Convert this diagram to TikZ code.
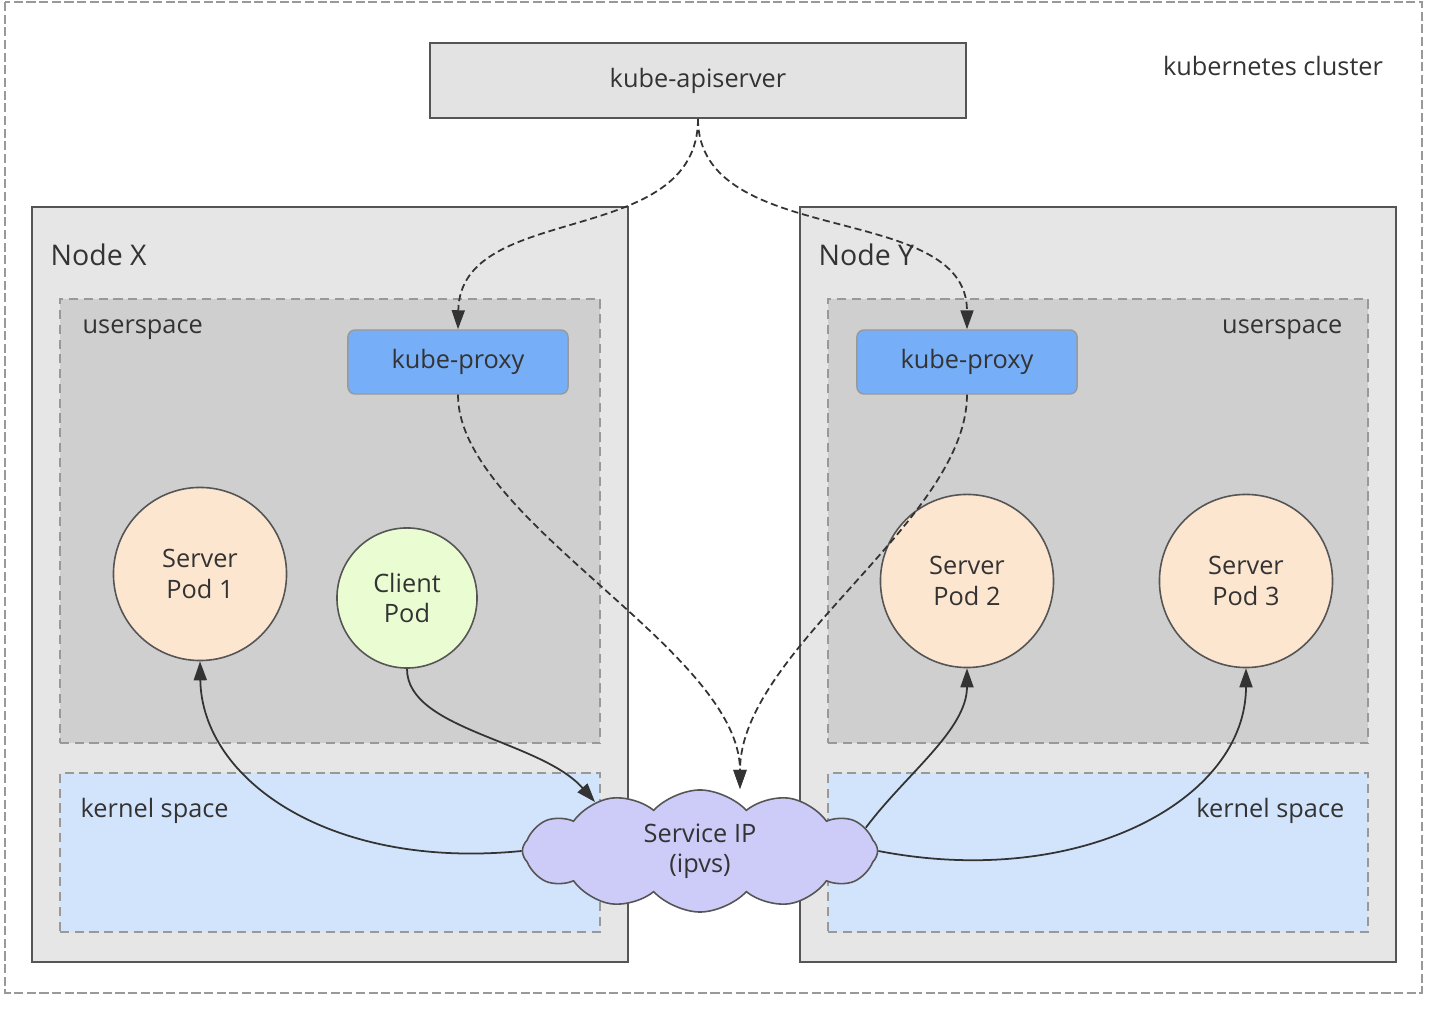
\documentclass[tikz,border=0pt]{standalone}
\usepackage{fontspec}
\setmainfont{Open Sans}
\usetikzlibrary{positioning,shapes.symbols,arrows.meta}

\definecolor{txtgray}{HTML}{333333}
\definecolor{linegray}{HTML}{555555}
\definecolor{dashgray}{HTML}{999999}
\definecolor{apifill}{HTML}{E3E3E3}
\definecolor{hostfill}{HTML}{E6E6E6}
\definecolor{userfill}{HTML}{CFCFCF}
\definecolor{kernelfill}{HTML}{D2E4FB}
\definecolor{proxyfill}{HTML}{76AEF8}
\definecolor{serverfill}{HTML}{FCE6D0}
\definecolor{clientfill}{HTML}{E9FCD2}
\definecolor{cloudfill}{HTML}{CDCBF8}

\begin{document}
\begin{tikzpicture}[
    x=0.01cm, y=-0.01cm,
    every node/.style={text=txtgray, font=\fontsize{7.2}{8.6}\selectfont},
    box/.style={rectangle, draw=linegray, line width=0.5pt, inner sep=0pt},
    host/.style={box, fill=hostfill, minimum width=59.6mm, minimum height=75.5mm},
    % dashed inner areas of a host
    area/.style={rectangle, draw=dashgray, line width=0.45pt, dash pattern=on 2.6pt off 1.6pt, inner sep=0pt, minimum width=54mm},
    proxy/.style={rectangle, rounded corners=2pt, draw=dashgray, fill=proxyfill, line width=0.4pt, minimum width=22mm, minimum height=6.4mm},
    pod/.style={circle, draw=linegray, line width=0.45pt, align=center, inner sep=0pt},
    server/.style={pod, fill=serverfill, minimum size=17.3mm},
    label/.style={inner sep=0pt},
    hostlabel/.style={label, font=\fontsize{8.1}{10}\selectfont},
    watch/.style={draw=txtgray, line width=0.5pt, dash pattern=on 2pt off 1.1pt, -{Triangle[length=1.9mm, width=1.3mm]}},
    flow/.style={draw=txtgray, line width=0.5pt, -{Triangle[length=1.9mm, width=1.3mm]}}
  ]
    \useasboundingbox (0,0) rectangle (1444,1013);

    %--- cluster frame and api server ---
    \draw[dashgray, line width=0.75pt, dash pattern=on 2.6pt off 1pt] (5,2) rectangle (1422,993);
    \node[label] (clusterlbl) at (1273,66) {kubernetes cluster};
    \node[box, fill=apifill, minimum width=53.6mm, minimum height=7.5mm] (api) at (698,80.5) {kube-apiserver};

    %--- Node X ---
    \node[host] (hostX) at (330,584.5) {};
    \node[hostlabel, anchor=west] (hostXlbl) at (50,255) {Node X};
    \node[area, fill=userfill, minimum height=44.4mm] (userX) at (330,521) {};
    \node[label, anchor=west] (userXlbl) at (82,330) {userspace};
    \node[area, fill=kernelfill, minimum height=15.9mm] (kernelX) at (330,852.5) {};
    \node[label, anchor=west] (kernelXlbl) at (80,811) {kernel space};
    \node[proxy] (proxyX) at (458,362) {kube-proxy};
    \node[server] (srv1) at (200,574) {Server\\Pod 1};
    \node[pod, fill=clientfill, minimum size=14mm] (client) at (407,598) {Client\\Pod};

    %--- Node Y ---
    \node[host] (hostY) at (1098,584.5) {};
    \node[hostlabel, anchor=west] (hostYlbl) at (818,255) {Node Y};
    \node[area, fill=userfill, minimum height=44.4mm] (userY) at (1098,521) {};
    \node[label, anchor=east] (userYlbl) at (1343,330) {userspace};
    \node[area, fill=kernelfill, minimum height=15.9mm] (kernelY) at (1098,852.5) {};
    \node[label, anchor=east] (kernelYlbl) at (1345,811) {kernel space};
    \node[proxy] (proxyY) at (967,362) {kube-proxy};
    \node[server] (srv2) at (967,581) {Server\\Pod 2};
    \node[server] (srv3) at (1246,581) {Server\\Pod 3};

    %--- service IP ---
    \node[cloud, cloud puffs=12, cloud puff arc=95, aspect=2.9, draw=linegray, line width=0.45pt,
          fill=cloudfill, align=center, inner sep=0pt, minimum width=35.5mm, minimum height=12.2mm] (svc) at (700,851) {Service IP\\(ipvs)};
    \coordinate (svctop) at (740,789);

    %--- watch connections (dashed)
    \draw[watch] (api.south) .. controls (698,250) and (460,200) .. (proxyX.north);
    \draw[watch] (api.south) .. controls (698,250) and (967,200) .. (proxyY.north);
    \draw[watch] (proxyX.south) .. controls (458,520) and (740,650) .. (svctop);
    \draw[watch] (proxyY.south) .. controls (967,520) and (740,650) .. (svctop);

    %--- traffic (solid)
    \draw[flow] (client.south) .. controls (407,730) and (540,740) .. (svc.155);
    \draw[flow] (svc.west) .. controls (330,870) and (202,780) .. (srv1.south);
    \draw[flow] (svc.8) .. controls (905,775) and (967,730) .. (srv2.south);
    \draw[flow] (svc.east) .. controls (1080,890) and (1246,800) .. (srv3.south);
\end{tikzpicture}
\end{document}
